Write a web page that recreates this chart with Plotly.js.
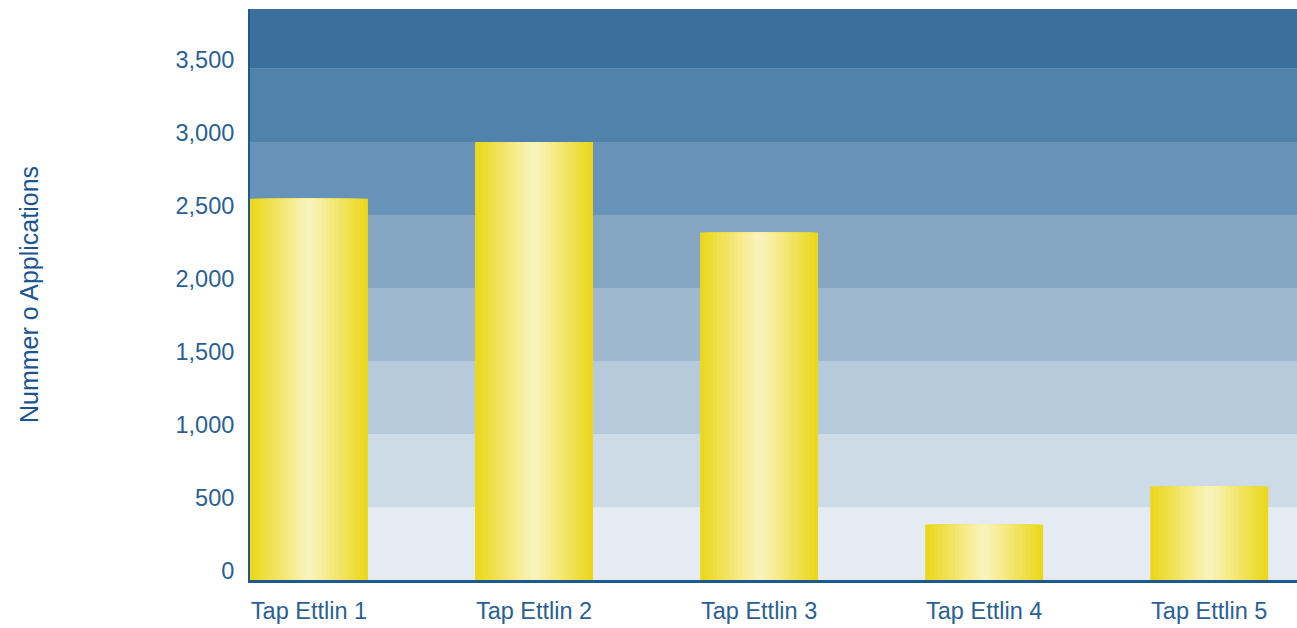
<!DOCTYPE html>
<html>
<head>
<meta charset="utf-8">
<script src="https://cdn.plot.ly/plotly-3.0.1.min.js"></script>
<style>html,body{margin:0;padding:0;background:#fff;}</style>
</head>
<body>
<div id="chart" style="width:1297px;height:628px;"></div>
<script>
// ---- data ----
const categories = ["Tap Ettlin 1", "Tap Ettlin 2", "Tap Ettlin 3", "Tap Ettlin 4", "Tap Ettlin 5"];
const applications = [2610, 3000, 2380, 380, 640];
const tickValues = [0, 500, 1000, 1500, 2000, 2500, 3000, 3500];
const tickLabels = ["0", "500", "1,000", "1,500", "2,000", "2,500", "3,000", "3,500"];
const bandEdges = [0, 500, 1000, 1500, 2000, 2500, 3000, 3500, 3910];
const bandColors = ["#e4ebf3", "#cddbe6", "#b5cadb", "#9db8cf", "#84a6c3", "#6893b8", "#5182ac", "#3b6f9c"];

// ---- gradient bars via overlaid narrower bars ----
const edge = [235, 216, 28];
const center = [249, 243, 186];
const steps = 14;
const fullWidth = 0.524;
const xIdx = categories.map((c, i) => i);
const traces = [];
for (let k = 0; k < steps; k++) {
  const t = k / (steps - 1);
  const c = edge.map((e, j) => Math.round(e + (center[j] - e) * t));
  traces.push({
    type: "bar",
    x: xIdx,
    y: applications,
    width: fullWidth * (1 - k / steps),
    marker: { color: `rgb(${c[0]},${c[1]},${c[2]})`, line: { width: 0 } },
    hoverinfo: k === 0 ? "x+y" : "skip",
    showlegend: false
  });
}

const shapes = bandColors.map((col, i) => ({
  type: "rect", xref: "paper", yref: "y", layer: "below",
  x0: 0, x1: 1, y0: bandEdges[i], y1: bandEdges[i + 1],
  fillcolor: col, line: { width: 0 }
}));

const layout = {
  width: 1297, height: 628,
  margin: { l: 250, r: 0, t: 9, b: 48 },
  paper_bgcolor: "#ffffff",
  plot_bgcolor: "#e4ebf3",
  barmode: "overlay",
  shapes: shapes,
  font: { family: "Liberation Sans, Arial, sans-serif", color: "#2a5f93" },
  xaxis: {
    range: [-0.262, 4.39],
    tickmode: "array", tickvals: xIdx, ticktext: categories,
    showgrid: false, zeroline: false,
    showline: true, linecolor: "#1f5a8f", linewidth: 3,
    ticks: "", ticklabelstandoff: 8,
    tickfont: { size: 23.5, color: "#2a5f93" },
    fixedrange: true
  },
  yaxis: {
    range: [0, 3910],
    tickmode: "array", tickvals: tickValues, ticktext: tickLabels,
    showgrid: false, zeroline: false,
    showline: true, linecolor: "#1f5a8f", linewidth: 2,
    ticks: "", ticklabelstandoff: 9, ticklabelshift: -9,
    tickfont: { size: 23.5, color: "#2a5f93" },
    title: { text: "Nummer o Applications", font: { size: 25, color: "#1b5590" }, standoff: 130 },
    automargin: false,
    fixedrange: true
  }
};

Plotly.newPlot("chart", traces, layout, { displayModeBar: false, staticPlot: true });
</script>
</body>
</html>
